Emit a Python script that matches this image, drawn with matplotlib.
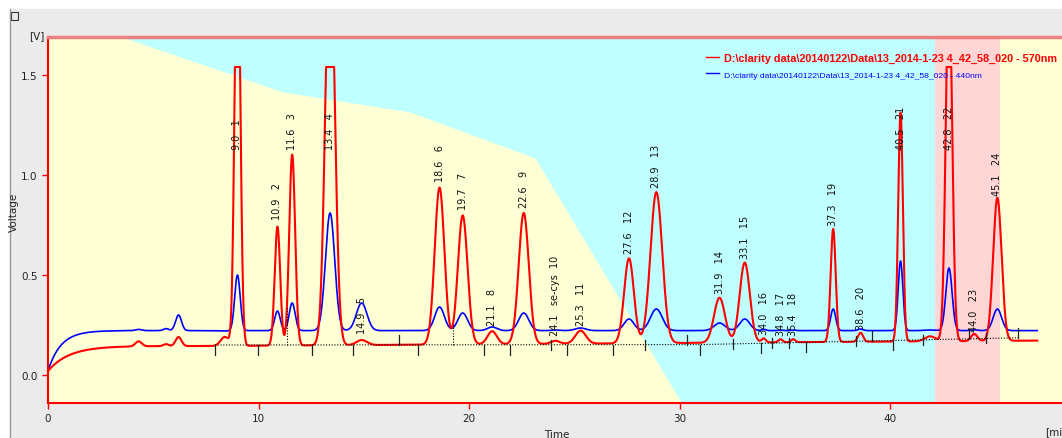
import numpy as np
import matplotlib.pyplot as plt
from matplotlib.patches import Rectangle
from matplotlib.lines import Line2D

# labelled peaks: retention time [min], apex [V] at 570 nm and 440 nm, width (sigma, min)
peak_time = [9.0, 10.9, 11.6, 13.4, 14.9, 18.6, 19.7, 21.1, 22.6, 24.1, 25.3, 27.6,
             28.9, 31.9, 33.1, 34.0, 34.8, 35.4, 37.3, 38.6, 40.5, 42.8, 44.0, 45.1]
peak_name = ['1', '2', '3', '4', '5', '6', '7', '8', '9', 'se-cys  10', '11', '12',
             '13', '14', '15', '16', '17', '18', '19', '20', '21', '22', '23', '24']
red_apex = [2.35, 0.74, 1.10, 2.20, 0.17, 0.93, 0.79, 0.21, 0.80, 0.16, 0.21, 0.57,
            0.90, 0.37, 0.545, 0.165, 0.16, 0.16, 0.71, 0.19, 1.29, 1.95, 0.18, 0.86]
blue_apex = [0.50, 0.32, 0.36, 0.81, 0.36, 0.34, 0.31, 0.24, 0.31, 0.225, 0.235, 0.28,
             0.33, 0.26, 0.28, 0.228, 0.225, 0.225, 0.33, 0.23, 0.57, 0.535, 0.226, 0.33]
peak_sigma = [0.13, 0.13, 0.14, 0.22, 0.25, 0.23, 0.23, 0.22, 0.24, 0.2, 0.25, 0.23,
              0.28, 0.26, 0.24, 0.1, 0.1, 0.1, 0.12, 0.12, 0.11, 0.15, 0.15, 0.2]

# small unlabelled bumps
minor_time = [4.3, 5.6, 6.2, 8.4, 41.9]
minor_red = [0.17, 0.155, 0.19, 0.19, 0.17]
minor_blue = [0.228, 0.232, 0.30, 0.22, 0.225]
minor_sigma = [0.15, 0.12, 0.14, 0.2, 0.25]

# detector levels
red_start, red_level, red_end = 0.02, 0.145, 0.172
blue_start, blue_level = 0.02, 0.222
red_tau, blue_tau = 1.0, 0.61
saturation = 1.54
run_end = 47.0

# gradient profile drawn behind the traces
grad_t = [0.0, 3.52, 11.16, 17.2, 23.14, 30.1, 42.14]
grad_v = [1.69, 1.69, 1.415, 1.315, 1.085, -0.14, -0.14]
segment_b = (42.14, 45.23)

# integration: peak boundary marks and baseline
bound_t = [7.93, 9.98, 11.35, 12.54, 14.49, 16.67, 17.58, 19.24, 20.71, 21.95, 23.90,
           24.66, 26.84, 28.36, 30.36, 30.97, 32.54, 33.87, 34.39, 35.20, 36.01, 38.38,
           39.14, 40.14, 41.57, 43.75, 44.56, 46.08]
bound_side = [-1, -1, 2, -1, -1, 1, -1, 2, -1, -1, 0, -1, -1, 0, 1, -1, 0, -1, 0, 0, -1,
              0, 1, -1, 0, 1, 0, 1]
base_t = [7.93, 30.97, 46.08]
base_v = [0.150, 0.152, 0.186]

legend_red = 'D:\\clarity data\\20140122\\Data\\13_2014-1-23 4_42_58_020 - 570nm'
legend_blue = 'D:\\clarity data\\20140122\\Data\\13_2014-1-23 4_42_58_020 - 440nm'


def trace(t, start, level, tau, apex, times, sigmas, extra):
    base = start + (level - start) * (1 - np.exp(-t / tau)) + extra
    y = base.copy()
    for c, h, s in zip(times, apex, sigmas):
        y += (h - level) * np.exp(-0.5 * ((t - c) / s) ** 2)
    return y


t = np.arange(0, run_end, 0.005)
drift = np.clip((t - 8) / (run_end - 8), 0, 1) * (red_end - red_level)
red = trace(t, red_start, red_level, red_tau, red_apex + minor_red,
            peak_time + minor_time, peak_sigma + minor_sigma, drift)
red = np.minimum(red, saturation)
blue = trace(t, blue_start, blue_level, blue_tau, blue_apex + minor_blue,
             peak_time + minor_time, peak_sigma + minor_sigma, 0)

fig = plt.figure(figsize=(10.62, 4.39), dpi=100)
fig.patch.set_facecolor('white')
fig.patches.append(Rectangle((10 / 1062, 0), 1, 429 / 439, transform=fig.transFigure,
                             color='#EBEBEB', zorder=-10))
fig.lines.append(Line2D([9.5 / 1062] * 2, [0, 429 / 439], transform=fig.transFigure,
                        color='#9A9A9A', lw=1))
fig.patches.append(Rectangle((11 / 1062, 1 - 21 / 439), 7 / 1062, 8 / 439,
                             transform=fig.transFigure, fill=False, ec='#333333', lw=0.8))

ax = fig.add_axes([48 / 1062, 35 / 439, 1014 / 1062, 366 / 439])
ax.set_facecolor('#FFFFD6')
ax.set_xlim(0, 48.17)
ax.set_ylim(-0.14, 1.69)

ax.fill_between(grad_t, grad_v, 1.69, color='#C0FFFF', lw=0, zorder=0)
ax.axvspan(*segment_b, color='#FFD6D6', lw=0, zorder=0)

line_r, = ax.plot(t, red, color='#FF0000', lw=1.5, zorder=3)
line_b, = ax.plot(t, blue, color='#0000FF', lw=1.2, zorder=2)

# integration baseline and marks
ax.plot(base_t, base_v, color='black', lw=0.8, ls=(0, (1, 1.5)), zorder=4)
for bt, side in zip(bound_t, bound_side):
    b = np.interp(bt, base_t, base_v)
    if side == 2:
        top = np.interp(bt, t, red)
        ax.plot([bt, bt], [b, top], color='black', lw=0.8, ls=(0, (1, 1.5)), zorder=4)
        continue
    lo, hi = {-1: (b - 0.05, b), 1: (b, b + 0.05), 0: (b - 0.025, b + 0.025)}[side]
    ax.plot([bt, bt], [lo, hi], color='#222222', lw=0.9, zorder=4)

for pt, name, h in zip(peak_time, peak_name, red_apex):
    y = min(h, saturation)
    y = min(y + 0.04, 1.13)
    ax.text(pt, y, f'{pt:.1f}   {name}', rotation=90, ha='center', va='bottom',
            fontsize=7, color='#111111', zorder=5)

for side in ['left', 'bottom']:
    ax.spines[side].set_color('#FF0000')
    ax.spines[side].set_linewidth(1.5)
ax.spines['top'].set_color('#F08080')
ax.spines['top'].set_linewidth(2.5)
ax.spines['right'].set_visible(False)

ax.set_xticks([0, 10, 20, 30, 40])
ax.set_yticks([0.0, 0.5, 1.0, 1.5])
ax.set_yticklabels(['0.0', '0.5', '1.0', '1.5'])
ax.tick_params(colors='#FF0000', labelcolor='#222222', labelsize=7.5, length=4, width=1)

leg = ax.legend([line_r, line_b], [legend_red, legend_blue], loc='upper left',
                bbox_to_anchor=(0.645, 0.968), frameon=False, handlelength=1.2,
                handletextpad=0.4, labelspacing=0.6, borderaxespad=0,
                prop={'family': 'Liberation Sans', 'size': 7.8})
txt_r, txt_b = leg.get_texts()
txt_r.set_color('#FF0000')
txt_r.set_fontweight('bold')
txt_b.set_color('#0000FF')
txt_b.set_fontsize(6.1)
for h in leg.legend_handles:
    h.set_linewidth(1)

fig.text(37 / 1062, 1 - 36 / 439, '[V]', ha='center', va='center', fontsize=7.5, color='#222222')
fig.text(14 / 1062, 1 - 212 / 439, 'Voltage', rotation=90, ha='center', va='center',
         fontsize=7.5, color='#222222')
fig.text(557 / 1062, 1 - 435 / 439, 'Time', ha='center', va='center', fontsize=7.5, color='#222222')
fig.text(1045 / 1062, 1 - 432 / 439, '[min', ha='left', va='center', fontsize=7.5, color='#222222')

fig.savefig('out.png', dpi=100)
